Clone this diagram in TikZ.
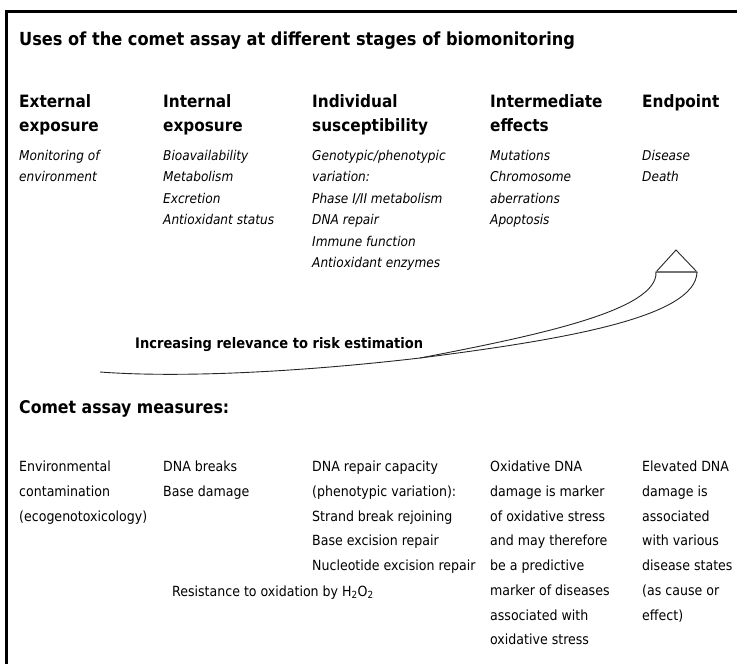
\documentclass[tikz,border=0pt]{standalone}
\usepackage{fontspec}
\setmainfont{DejaVu Sans Condensed}
\usetikzlibrary{positioning}

\tikzset{
  headtext/.style={anchor=north west, align=left, inner sep=0pt,
    font=\bfseries\fontsize{17}{24}\selectfont},
  itemtext/.style={anchor=north west, align=left, inner sep=0pt,
    font=\itshape\fontsize{13.5}{21.5}\selectfont},
  measuretext/.style={anchor=north west, align=left, inner sep=0pt,
    font=\fontsize{14}{24.7}\selectfont},
  relline/.style={line width=0.9pt, black!85},
}

\begin{document}
\begin{tikzpicture}[x=1pt, y=-1pt]
  \useasboundingbox (0,0) rectangle (737,664);

  % frame
  \draw[line width=3pt] (6,664) -- (6,11) -- (737,11);

  % title
  \node[anchor=base west, inner sep=0pt, font=\bfseries\fontsize{18}{24}\selectfont] (title) at (19,45)
    {Uses of the comet assay at different stages of biomonitoring};

  % stages
  \node[headtext] (hExt) at (19,94) {External\\exposure};
  \node[headtext] (hInt) at (163,94) {Internal\\exposure};
  \node[headtext] (hInd) at (312,94) {Individual\\susceptibility};
  \node[headtext] (hMid) at (490,94) {Intermediate\\effects};
  \node[headtext] (hEnd) at (642,94) {Endpoint};

  % examples of each stage
  \node[itemtext] (iExt) at (19,150) {Monitoring of\\environment};
  \node[itemtext] (iInt) at (163,150) {Bioavailability\\Metabolism\\Excretion\\Antioxidant status};
  \node[itemtext] (iInd) at (312,150) {Genotypic/phenotypic\\variation:\\Phase I/II metabolism\\DNA repair\\Immune function\\Antioxidant enzymes};
  \node[itemtext] (iMid) at (490,150) {Mutations\\Chromosome\\aberrations\\Apoptosis};
  \node[itemtext] (iEnd) at (642,150) {Disease\\Death};

  % relevance arrow
  \coordinate (tip) at (676,250);
  \coordinate (bl) at (656,272);
  \coordinate (br) at (697,272);
  \coordinate (tail) at (100,372);
  \coordinate (join) at (420,358);
  \draw[relline] (tip) -- (bl) -- (br) -- cycle;
  \draw[line width=2pt, black!55] (bl) -- (br);
  \draw[relline] (br) .. controls (696,318) and (560,340) .. (join)
    .. controls (300,372) and (180,378) .. (tail);
  \draw[relline] (bl) .. controls (658,310) and (540,335) .. (join);
  \node[anchor=base west, inner sep=0pt, font=\bfseries\fontsize{14.5}{20}\selectfont] (relev) at (135,348)
    {Increasing relevance to risk estimation};

  % comet assay measures
  \node[anchor=base west, inner sep=0pt, font=\bfseries\fontsize{17.5}{20}\selectfont] (measures) at (19,413)
    {Comet assay measures:};
  \node[measuretext] (mExt) at (19,461) {Environmental\\contamination\\(ecogenotoxicology)};
  \node[measuretext] (mInt) at (163,461) {DNA breaks\\Base damage};
  \node[measuretext] (mInd) at (312,461) {DNA repair capacity\\(phenotypic variation):\\Strand break rejoining\\Base excision repair\\Nucleotide excision repair};
  \node[measuretext] (mMid) at (490,461) {Oxidative DNA\\damage is marker\\of oxidative stress\\and may therefore\\be a predictive\\marker of diseases\\associated with\\oxidative stress};
  \node[measuretext] (mEnd) at (642,461) {Elevated DNA\\damage is\\associated\\with various\\disease states\\(as cause or\\effect)};
  \node[anchor=base west, inner sep=0pt, font=\fontsize{14}{20}\selectfont] (resist) at (172,596)
    {Resistance to oxidation by H\textsubscript{2}O\textsubscript{2}};
\end{tikzpicture}
\end{document}
